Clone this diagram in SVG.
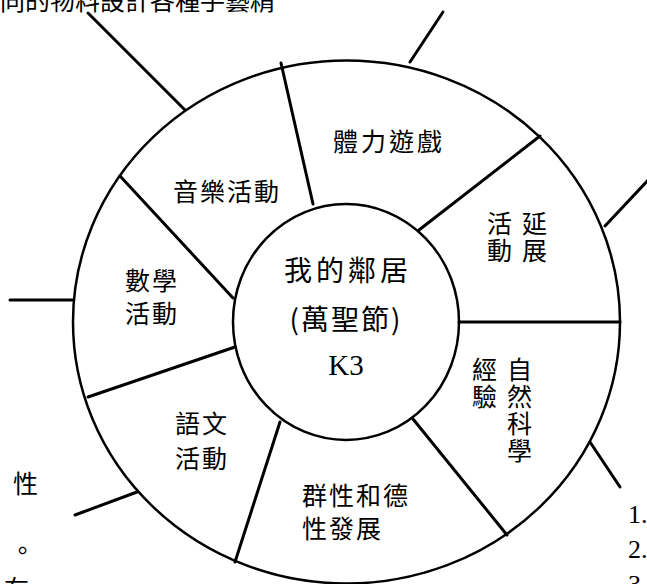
<svg xmlns="http://www.w3.org/2000/svg" width="647" height="584" viewBox="0 0 647 584">
<style>
.ring{fill:none;stroke:#000;stroke-width:2.5}
.ln{stroke:#000;stroke-width:3;stroke-linecap:round;fill:none}
.cjk{font-family:"Noto Sans CJK TC","Noto Sans CJK SC",sans-serif;font-size:25px;fill:#000}
.vert{writing-mode:vertical-rl;letter-spacing:2px}
.ctr{font-family:"Noto Sans CJK TC","Noto Sans CJK SC",sans-serif;font-size:28px;fill:#000;text-anchor:middle}
.ser{font-family:"Liberation Serif",serif;fill:#000}
</style>
<rect width="647" height="584" fill="#fff"/>
<g id="fragments">
<text class="cjk" x="0" y="10">同的物料設計各種手藝精</text>
<text class="cjk" x="13" y="493">性</text>
<text class="cjk" x="10" y="560">。</text>
<text class="cjk" x="4" y="598">在</text>
<text class="ser" x="628" y="523" font-size="26">1.</text>
<text class="ser" x="628" y="558" font-size="26">2.</text>
<text class="ser" x="628" y="593" font-size="26">3.</text>
</g>
<g id="rings">
<ellipse class="ring" cx="346.5" cy="322" rx="273.5" ry="261.5"/>
</g>
<g id="connectors">
<line class="ln" x1="313" y1="204" x2="281" y2="63"/>
<line class="ln" x1="419" y1="230" x2="540" y2="136"/>
<line class="ln" x1="459" y1="322" x2="620" y2="322"/>
<line class="ln" x1="413" y1="419" x2="507" y2="535"/>
<line class="ln" x1="280" y1="422" x2="235" y2="562"/>
<line class="ln" x1="235" y1="347" x2="88" y2="397"/>
<line class="ln" x1="233" y1="298" x2="120" y2="176"/>
<line class="ln" x1="88" y1="13" x2="185" y2="110"/>
<line class="ln" x1="410" y1="62" x2="443" y2="12"/>
<line class="ln" x1="605" y1="226" x2="650" y2="178"/>
<line class="ln" x1="10" y1="300" x2="73" y2="300"/>
<line class="ln" x1="75" y1="515" x2="137" y2="492"/>
<line class="ln" x1="590" y1="442" x2="620" y2="487"/>
</g>
<g id="center">
<ellipse class="ring" cx="346" cy="322" rx="113" ry="118" fill="#fff"/>
<text class="ctr" x="348" y="281" letter-spacing="4">我的鄰居</text>
<text class="ctr" x="346" y="330" letter-spacing="2">(萬聖節)</text>
<text class="ser" x="346" y="375" font-size="29" text-anchor="middle">K3</text>
</g>
<g id="physical"><text class="cjk" x="333" y="151" letter-spacing="3">體力遊戲</text></g>
<g id="music"><text class="cjk" x="173" y="201" letter-spacing="2">音樂活動</text></g>
<g id="math"><text class="cjk" x="125" y="290" letter-spacing="2">數學</text><text class="cjk" x="125" y="323" letter-spacing="2">活動</text></g>
<g id="language"><text class="cjk" x="175" y="433" letter-spacing="2">語文</text><text class="cjk" x="175" y="468" letter-spacing="2">活動</text></g>
<g id="social"><text class="cjk" x="302" y="505" letter-spacing="2">群性和德</text><text class="cjk" x="302" y="538" letter-spacing="2">性發展</text></g>
<g id="extension"><text class="cjk vert" x="534.5" y="211">延展</text><text class="cjk vert" x="499.5" y="211">活動</text></g>
<g id="science"><text class="cjk vert" x="519.5" y="357">自然科學</text><text class="cjk vert" x="484.5" y="357">經驗</text></g>
</svg>
